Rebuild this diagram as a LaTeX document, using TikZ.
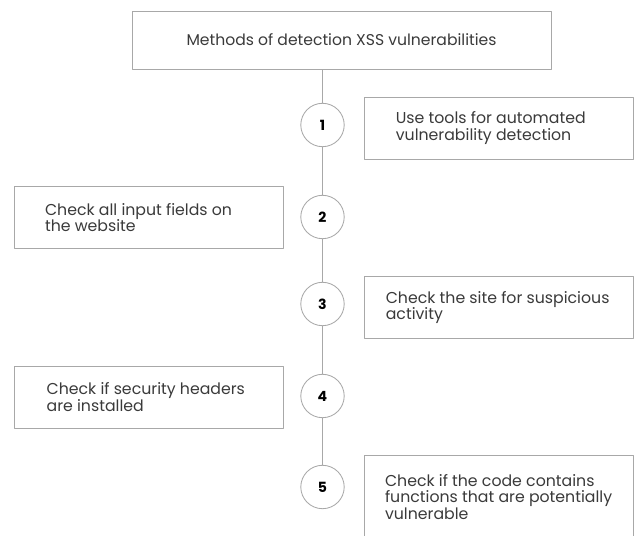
\documentclass[tikz,border=0pt]{standalone}
\usepackage{fontspec}
\setmainfont{Poppins}
\usetikzlibrary{positioning}
\definecolor{framegray}{HTML}{A8A8A8}
\definecolor{textgray}{HTML}{3A3A3A}
\tikzset{
  stepframe/.style={draw=framegray, line width=0.6pt, rectangle, minimum width=6.725cm, minimum height=1.55cm},
  steptext/.style={align=left, inner sep=0pt, text=textgray, font=\fontsize{11.2}{11.8}\selectfont},
  numcircle/.style={draw=framegray, line width=0.6pt, circle, minimum size=1.085cm, inner sep=0pt,
    font=\bfseries\fontsize{10}{12}\selectfont},
  stem/.style={draw=framegray, line width=0.6pt}
}
\begin{document}
\begin{tikzpicture}[x=0.025cm, y=-0.025cm, line join=round, line cap=round]
\useasboundingbox (0,0) rectangle (640,536);
\node[draw=framegray, line width=0.6pt, minimum width=10.475cm, minimum height=1.45cm, text=textgray,
  font=\fontsize{11.1}{13}\selectfont] (title) at (341.5,40) {Methods of detection XSS vulnerabilities};
\foreach \n/\y in {1/125,2/217,3/304,4/396,5/487}
  \node[numcircle] (c\n) at (322.5,\y) {\n};
\draw[stem] (c1 |- title.south) -- (c1);
\foreach \a/\b in {1/2,2/3,3/4,4/5}
  \draw[stem] (c\a) -- (c\b);
% frames
\node[stepframe] (s1) at (498.5,128) {};
\node[stepframe] (s2) at (148.5,217.5) {};
\node[stepframe] (s3) at (498.5,307.5) {};
\node[stepframe] (s4) at (148.5,397) {};
\node[stepframe, anchor=north, minimum height=2.3cm] (s5) at (498.5,455) {};
% texts
\node[steptext, right=0.8cm of s1.west] (t1) {Use tools for automated\\vulnerability detection};
\node[steptext, right=0.78cm of s2.west] (t2) {Check all input fields on\\the website};
\node[steptext, right=0.55cm of s3.west] (t3) {Check the site for suspicious\\activity};
\node[steptext, right=0.82cm of s4.west] (t4) {Check if security headers\\are installed};
\node[steptext, below right=0.47cm and 0.53cm of s5.north west] (t5)
  {Check if the code contains\\functions that are potentially\\vulnerable};
\end{tikzpicture}
\end{document}
